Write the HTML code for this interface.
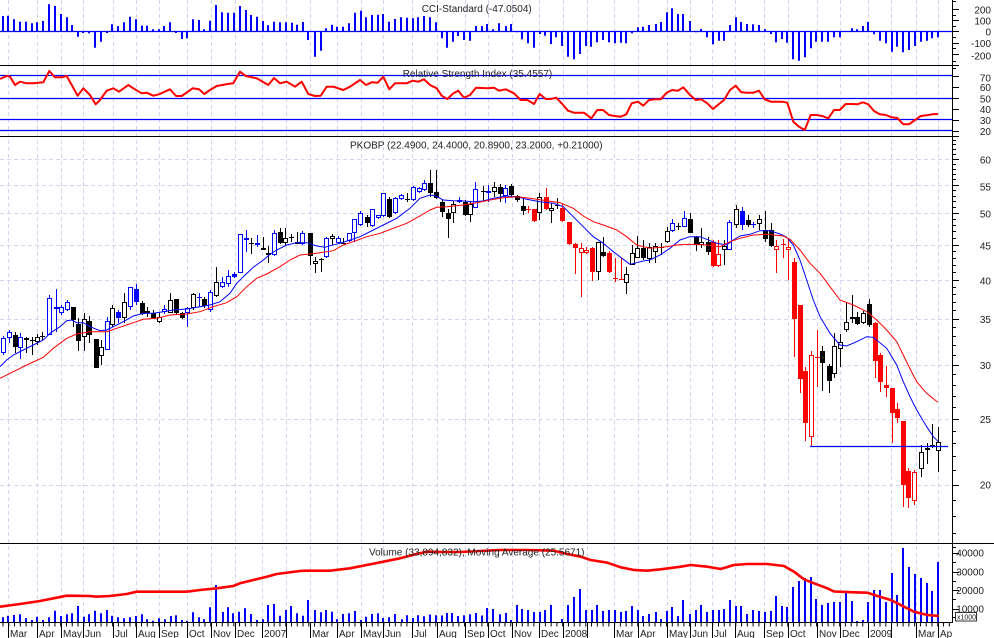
<!DOCTYPE html>
<html><head><meta charset="utf-8"><style>
html,body{margin:0;padding:0;background:#fff;width:994px;height:638px;overflow:hidden}
svg{display:block}
text{font-family:"Liberation Sans",Arial,sans-serif;font-size:10px;fill:#222}
</style></head><body>
<svg width="994" height="638" viewBox="0 0 994 638" xmlns="http://www.w3.org/2000/svg">
<defs><clipPath id="cx"><rect x="0" y="600" width="952" height="40"/></clipPath></defs>
<rect width="994" height="638" fill="#fff"/>
<!-- vertical grid -->
<g stroke="#d4d4f0" stroke-width="1" stroke-dasharray="4 3">
<path d="M8.5 0V622M37.5 0V622M61.5 0V622M83.5 0V622M113.5 0V622M136.5 0V622M159.5 0V622M187.5 0V622M211.5 0V622M235.5 0V622M262.5 0V622M286.5 0V622M310.5 0V622M337.5 0V622M361.5 0V622M383.5 0V622M412.5 0V622M437.5 0V622M465.5 0V622M488.5 0V622M512.5 0V622M539.5 0V622M563.5 0V622M587.5 0V622M614.5 0V622M638.5 0V622M667.5 0V622M690.5 0V622M712.5 0V622M735.5 0V622M764.5 0V622M788.5 0V622M817.5 0V622M840.5 0V622M868.5 0V622M891.5 0V622M916.5 0V622M938.5 0V622"/>
<path d="M0 159.5H952M0 185.5H952M0 213.5H952M0 245.5H952M0 280.5H952M0 319.5H952M0 365.5H952M0 419.5H952M0 485.5H952"/>
</g>
<!-- reference lines -->
<g stroke="#0000ff" stroke-width="1.3">
<path d="M0 31.5H952M0 75.5H952M0 98.5H952M0 119.5H952M0 130.5H952"/>
</g>
<!-- separators -->
<g stroke="#000" stroke-width="1">
<path d="M0 65.5H959M0 136.5H959M0 543.5H994M0 622.5H953M952.5 0V622"/>
</g>
<!-- CCI bars -->
<path fill="none" stroke="#0000ff" stroke-width="2" d="M3 31.5V16M8 31.5V15.7M14 31.5V19.3M20 31.5V21.7M26 31.5V21.7M32 31.5V23.3M37 31.5V22.3M43 31.5V21M49 31.5V4.3M55 31.5V6M61 31.5V14M67 31.5V17.3M72 31.5V25M78 31.5V36.7M83 31.5V33M89 31.5V33.3M95 31.5V47.7M101 31.5V41.7M107 31.5V33M112 31.5V24.3M118 31.5V26M124 31.5V22.3M130 31.5V16.7M136 31.5V19.3M142 31.5V25.7M147 31.5V25.7M153 31.5V29.3M159 31.5V29.3M164 31.5V26M170 31.5V22.3M176 31.5V33M182 31.5V39M187 31.5V38.3M193 31.5V19.3M199 31.5V20M204 31.5V29.3M210 31.5V20.7M216 31.5V5M222 31.5V12.3M228 31.5V12.7M234 31.5V12.7M240 31.5V6M246 31.5V10M251 31.5V15M257 31.5V16.7M263 31.5V21M268 31.5V25.3M274 31.5V21.7M280 31.5V22.3M286 31.5V22.3M292 31.5V22.7M297 31.5V24.7M303 31.5V22M308 31.5V40M315 31.5V56.7M321 31.5V50.7M326 31.5V28.3M332 31.5V24.7M337 31.5V26.7M343 31.5V26.7M349 31.5V23.3M355 31.5V12.7M361 31.5V10.7M366 31.5V17.3M372 31.5V15M378 31.5V14.7M383 31.5V14M389 31.5V21.7M395 31.5V19M401 31.5V17.3M407 31.5V17.7M413 31.5V18.3M418 31.5V17.3M424 31.5V16M430 31.5V17.3M436 31.5V22.3M442 31.5V38.3M447 31.5V47.7M453 31.5V41.7M458 31.5V36M464 31.5V40M470 31.5V40.7M476 31.5V26M482 31.5V26M487 31.5V24M493 31.5V29.3M499 31.5V23.3M506 31.5V26M511 31.5V24M517 31.5V32.3M522 31.5V39.3M528 31.5V43.3M534 31.5V47.7M540 31.5V34M545 31.5V35.7M551 31.5V44M556 31.5V37.3M562 31.5V46M568 31.5V56.7M574 31.5V59.3M580 31.5V54M586 31.5V46M591 31.5V46.7M597 31.5V42.3M603 31.5V40M609 31.5V42.3M615 31.5V43.3M621 31.5V42.7M626 31.5V43.3M632 31.5V33.3M638 31.5V27.3M643 31.5V26.7M649 31.5V25M656 31.5V24M661 31.5V22M667 31.5V12.3M672 31.5V8.3M678 31.5V14M683 31.5V14M690 31.5V21M696 31.5V32.3M701 31.5V29M707 31.5V37.3M713 31.5V44.3M719 31.5V40.7M724 31.5V40.7M730 31.5V25M736 31.5V17.3M741 31.5V22M747 31.5V24M753 31.5V24.3M759 31.5V25M765 31.5V29.3M771 31.5V34M776 31.5V42.3M782 31.5V39M787 31.5V42.7M793 31.5V59.3M799 31.5V60.7M805 31.5V57.3M811 31.5V48.3M816 31.5V41.7M822 31.5V41.7M828 31.5V41.7M834 31.5V37.3M840 31.5V37.3M852 31.5V28.3M857 31.5V29.3M863 31.5V26M868 31.5V22M874 31.5V34.3M880 31.5V40.7M886 31.5V43.3M892 31.5V51.7M897 31.5V46.7M903 31.5V52.3M909 31.5V50M915 31.5V46M921 31.5V41.7M927 31.5V40.7M932 31.5V38.3M938 31.5V37.3"/>
<!-- RSI -->
<polyline fill="none" stroke="#ff0000" stroke-width="2" stroke-linejoin="round" points="0,79 6.7,76 10,76.7 15,85 20,81.7 26.7,83.3 33.3,83.3 43.3,82.3 49.3,71 55,77.3 61.7,77.3 66.7,76 71.7,85 77.7,95.7 83.3,88.3 90,95 95.7,104.3 100,100 106.7,90.7 113.3,88.3 119,91.7 128.3,85 133.3,88.3 141.7,93.3 146.7,92.7 153.3,95.7 159,94.3 170,89.3 176,96 181.7,96 192.7,88.3 199,89.3 204.3,94 210,90 216.7,86 227.7,84 233.3,83.3 240,71.7 245.7,76 256.7,78.3 268.3,85 274,78 280,83.3 286.7,81.7 295,86.7 301.7,81.7 308.3,94 315,96 320.7,95.7 326.7,86.7 333.3,86.7 343.3,90 350,86.7 360,80 366,85 371.7,82.3 377.7,82.7 383.3,76.7 389.3,89.3 395,83.3 406.7,83.3 412.7,80.7 418.3,81.7 424,79.3 430,85 436.7,88.3 441.7,95.7 447.3,99 453.3,93.3 458.3,90.7 464,97.7 470,95 476,87.7 481.7,88 487.3,88.3 494,87.7 499,90.7 505.7,89.3 514,93.3 520.7,100 527.3,100 534,104 539.7,94 545.7,99 550.7,99 556.3,97.7 562.3,104 568,110.7 574,112.7 584,112.7 591.3,118.3 597.3,110 603,110 609,115 614.7,116 620.7,116.7 626.3,114.3 631.7,103.3 638,101.7 643.3,105.7 649,100 655.7,99.3 660.7,99.3 666.7,92.7 672.3,90 678,90.7 683.3,87.3 690,95 695.7,100 701.3,99.3 707.3,103.3 713,109 719,104 724,100 730,90 735.7,85.7 741.3,92.3 747.3,92.7 753.3,92.7 759,90.7 764.7,99.3 770.7,101.7 782.3,101.7 787.3,102.7 793.3,121.7 799,126.7 804.7,130 810.7,115 816.3,115 822.3,116 828.3,118.3 834,110 839.7,110 845.7,104 851.7,104 857.3,104.3 863,102.3 868.3,104.3 874,111 879.7,114.3 885.7,115 891.7,117.3 897.3,118 903.3,124.3 909,124.3 915,120 920.7,116 926.7,115.3 932.3,114.3 938,114"/>
<!-- candle wicks -->
<path fill="none" stroke="#0000ff" stroke-width="1" d="M3.5 336V355M9.5 330V343M20.5 333V359M49.5 295V335M56.5 289V332M61.5 305V315M67.5 300V311M107.5 317V350M118.5 310V323M130.5 287V310M136.5 284V305M164.5 305V314M187.5 307V327M199.5 293V307M210.5 290V312M222.5 277V288M228.5 270V287M234.5 272V278M240.5 234V273M246.5 230V252M257.5 235V247M274.5 230V256M302.5 231V245M326.5 237V258M338.5 236V244M349.5 233V242M354.5 219V242M360.5 211V226M372.5 209V227M378.5 215V219M383.5 193V217M395.5 197V214M401.5 194V200M413.5 186V201M419.5 187V193M424.5 180V191M459.5 197V203M475.5 182V208M488.5 185V202M505.5 185V203M672.5 219V232M684.5 211V227M729.5 220V250M742.5 207V230M753.5 222V228M197 297.5h5M751 224.5h5"/>
<path fill="none" stroke="#000" stroke-width="1" d="M15.5 332V353M26.5 337V353M32.5 337V355M37.5 334V345M42.5 332V340M73.5 307V327M78.5 318V351M84.5 313V351M89.5 316V343M96.5 339V368M101.5 340V365M112.5 305V327M124.5 293V323M142.5 301V315M147.5 307V317M153.5 310V318M159.5 313V323M170.5 293V313M176.5 299V315M182.5 312V319M193.5 293V310M204.5 297V308M216.5 267V297M251.5 238V254M263.5 237V249M268.5 246V263M280.5 228V244M285.5 228V245M291.5 234V242M297.5 232V244M310.5 233V265M315.5 257V273M321.5 258V272M332.5 234V245M343.5 238V244M367.5 215V227M389.5 197V218M407.5 193V202M430.5 170V197M436.5 170V199M442.5 200V217M448.5 209V238M453.5 201V223M465.5 200V216M470.5 202V222M483.5 186V201M494.5 182V197M500.5 184V202M511.5 184V197M517.5 195V202M523.5 198V215M539.5 193V220M551.5 203V223M557.5 198V209M598.5 242V280M603.5 237V257M626.5 267V294M632.5 245V265M637.5 236V258M643.5 240V260M649.5 243V263M655.5 243V263M661.5 243V255M667.5 227V243M678.5 223V230M690.5 213V233M696.5 236V251M701.5 228V248M708.5 237V255M724.5 240V265M736.5 205V228M748.5 215V227M759.5 215V230M765.5 211V242M771.5 223V247M822.5 346V391M829.5 364V393M834.5 333V378M840.5 334V367M846.5 303V332M852.5 295V323M857.5 312V325M863.5 311V324M869.5 299V327M921.5 445V477M927.5 443V464M932.5 424V448M938.5 427V472M30 340.5h5M40 336.5h5M249 243.5h5M289 237.5h5M319 259.5h5M341 243.5h5M405 199.5h5M481 191.5h5M555 205.5h5M659 247.5h5M676 226.5h5"/>
<path fill="none" stroke="#ff0000" stroke-width="1" d="M528.5 206V213M534.5 209V222M546.5 188V210M562.5 204V222M569.5 222V245M575.5 243V274M581.5 243V297M586.5 247V254M592.5 247V281M609.5 251V273M615.5 258V282M621.5 258V280M713.5 240V267M718.5 240V267M776.5 240V273M783.5 239V258M788.5 238V280M794.5 258V357M800.5 305V393M805.5 367V441M811.5 351V447M817.5 330V387M875.5 322V378M880.5 353V392M886.5 366V397M892.5 388V443M897.5 403V423M903.5 421V507M908.5 468V508M914.5 470V505M526 209.5h5M613 278.5h5M619 279.5h5M781 244.5h5M815 357.5h5"/>
<!-- filled bodies -->
<g fill="#0000ff"><rect x="54" y="307" width="5" height="2"/><rect x="116" y="312" width="5" height="6"/><rect x="134" y="289" width="5" height="13"/><rect x="232" y="274" width="5" height="3"/><rect x="244" y="238" width="5" height="2"/><rect x="255" y="243" width="5" height="2"/><rect x="486" y="191" width="5" height="2"/><rect x="740" y="211" width="5" height="14"/></g>
<g fill="#000"><rect x="13" y="335" width="5" height="12"/><rect x="24" y="338" width="5" height="2"/><rect x="71" y="307" width="5" height="13"/><rect x="76" y="324" width="5" height="17"/><rect x="87" y="321" width="5" height="14"/><rect x="94" y="339" width="5" height="29"/><rect x="140" y="303" width="5" height="11"/><rect x="151" y="313" width="5" height="5"/><rect x="174" y="299" width="5" height="14"/><rect x="180" y="313" width="5" height="5"/><rect x="202" y="299" width="5" height="7"/><rect x="261" y="248" width="5" height="2"/><rect x="266" y="253" width="5" height="2"/><rect x="278" y="232" width="5" height="11"/><rect x="295" y="242" width="5" height="2"/><rect x="308" y="233" width="5" height="23"/><rect x="365" y="217" width="5" height="6"/><rect x="387" y="199" width="5" height="18"/><rect x="428" y="183" width="5" height="10"/><rect x="434" y="192" width="5" height="6"/><rect x="440" y="202" width="5" height="10"/><rect x="446" y="213" width="5" height="6"/><rect x="463" y="202" width="5" height="13"/><rect x="498" y="187" width="5" height="7"/><rect x="509" y="186" width="5" height="9"/><rect x="515" y="196" width="5" height="4"/><rect x="521" y="206" width="5" height="5"/><rect x="601" y="252" width="5" height="4"/><rect x="641" y="248" width="5" height="10"/><rect x="688" y="219" width="5" height="14"/><rect x="694" y="237" width="5" height="8"/><rect x="706" y="242" width="5" height="10"/><rect x="746" y="220" width="5" height="5"/><rect x="763" y="230" width="5" height="9"/><rect x="769" y="230" width="5" height="16"/><rect x="820" y="351" width="5" height="12"/><rect x="827" y="366" width="5" height="15"/><rect x="850" y="317" width="5" height="2"/><rect x="855" y="317" width="5" height="7"/><rect x="867" y="304" width="5" height="21"/><rect x="925" y="448" width="5" height="2"/><rect x="930" y="445" width="5" height="2"/></g>
<g fill="#ff0000"><rect x="532" y="209" width="5" height="12"/><rect x="544" y="197" width="5" height="12"/><rect x="560" y="208" width="5" height="13"/><rect x="567" y="222" width="5" height="22"/><rect x="573" y="244" width="5" height="4"/><rect x="590" y="248" width="5" height="24"/><rect x="607" y="253" width="5" height="19"/><rect x="711" y="242" width="5" height="24"/><rect x="792" y="262" width="5" height="57"/><rect x="798" y="305" width="5" height="74"/><rect x="803" y="371" width="5" height="52"/><rect x="873" y="323" width="5" height="38"/><rect x="878" y="355" width="5" height="27"/><rect x="884" y="385" width="5" height="3"/><rect x="890" y="388" width="5" height="25"/><rect x="895" y="409" width="5" height="9"/><rect x="901" y="421" width="5" height="64"/><rect x="906" y="471" width="5" height="27"/></g>
<!-- hollow bodies -->
<g fill="#fff" stroke="#0000ff" stroke-width="1"><rect x="1.5" y="338.5" width="4" height="14"/><rect x="7.5" y="332.5" width="4" height="5"/><rect x="18.5" y="337.5" width="4" height="10"/><rect x="47.5" y="298.5" width="4" height="36"/><rect x="59.5" y="307.5" width="4" height="5"/><rect x="65.5" y="302.5" width="4" height="7"/><rect x="105.5" y="321.5" width="4" height="28"/><rect x="128.5" y="287.5" width="4" height="19"/><rect x="162.5" y="309.5" width="4" height="2"/><rect x="185.5" y="308.5" width="4" height="4"/><rect x="208.5" y="292.5" width="4" height="17"/><rect x="220.5" y="282.5" width="4" height="4"/><rect x="226.5" y="276.5" width="4" height="7"/><rect x="238.5" y="234.5" width="4" height="38"/><rect x="272.5" y="233.5" width="4" height="21"/><rect x="300.5" y="233.5" width="4" height="10"/><rect x="324.5" y="238.5" width="4" height="18"/><rect x="336.5" y="238.5" width="4" height="4"/><rect x="347.5" y="233.5" width="4" height="7"/><rect x="352.5" y="219.5" width="4" height="13"/><rect x="358.5" y="213.5" width="4" height="11"/><rect x="370.5" y="209.5" width="4" height="16"/><rect x="376.5" y="215.5" width="4" height="2"/><rect x="381.5" y="193.5" width="4" height="22"/><rect x="393.5" y="198.5" width="4" height="14"/><rect x="399.5" y="195.5" width="4" height="3"/><rect x="411.5" y="187.5" width="4" height="12"/><rect x="417.5" y="188.5" width="4" height="3"/><rect x="422.5" y="183.5" width="4" height="6"/><rect x="457.5" y="200.5" width="4" height="1"/><rect x="473.5" y="189.5" width="4" height="18"/><rect x="503.5" y="188.5" width="4" height="7"/><rect x="670.5" y="223.5" width="4" height="7"/><rect x="682.5" y="218.5" width="4" height="8"/><rect x="727.5" y="222.5" width="4" height="27"/></g>
<g fill="#fff" stroke="#000" stroke-width="1"><rect x="35.5" y="337.5" width="4" height="4"/><rect x="82.5" y="319.5" width="4" height="17"/><rect x="99.5" y="347.5" width="4" height="8"/><rect x="110.5" y="308.5" width="4" height="16"/><rect x="122.5" y="302.5" width="4" height="15"/><rect x="145.5" y="311.5" width="4" height="1"/><rect x="157.5" y="317.5" width="4" height="4"/><rect x="168.5" y="300.5" width="4" height="12"/><rect x="191.5" y="294.5" width="4" height="13"/><rect x="214.5" y="282.5" width="4" height="13"/><rect x="283.5" y="238.5" width="4" height="4"/><rect x="313.5" y="261.5" width="4" height="2"/><rect x="330.5" y="236.5" width="4" height="2"/><rect x="451.5" y="204.5" width="4" height="8"/><rect x="468.5" y="204.5" width="4" height="10"/><rect x="492.5" y="187.5" width="4" height="4"/><rect x="537.5" y="197.5" width="4" height="15"/><rect x="549.5" y="208.5" width="4" height="2"/><rect x="596.5" y="242.5" width="4" height="29"/><rect x="624.5" y="274.5" width="4" height="8"/><rect x="630.5" y="253.5" width="4" height="11"/><rect x="635.5" y="248.5" width="4" height="9"/><rect x="647.5" y="247.5" width="4" height="11"/><rect x="653.5" y="246.5" width="4" height="5"/><rect x="665.5" y="231.5" width="4" height="10"/><rect x="699.5" y="242.5" width="4" height="2"/><rect x="722.5" y="246.5" width="4" height="3"/><rect x="734.5" y="209.5" width="4" height="15"/><rect x="757.5" y="219.5" width="4" height="4"/><rect x="832.5" y="346.5" width="4" height="27"/><rect x="838.5" y="342.5" width="4" height="6"/><rect x="844.5" y="322.5" width="4" height="7"/><rect x="861.5" y="313.5" width="4" height="9"/><rect x="919.5" y="452.5" width="4" height="16"/><rect x="936.5" y="442.5" width="4" height="8"/></g>
<g fill="#fff" stroke="#ff0000" stroke-width="1"><rect x="579.5" y="248.5" width="4" height="4"/><rect x="584.5" y="250.5" width="4" height="2"/><rect x="716.5" y="254.5" width="4" height="11"/><rect x="774.5" y="246.5" width="4" height="3"/><rect x="786.5" y="247.5" width="4" height="2"/><rect x="809.5" y="355.5" width="4" height="81"/><rect x="912.5" y="472.5" width="4" height="28"/></g>
<!-- moving averages -->
<polyline fill="none" stroke="#0000ff" stroke-width="1" points="0,366.7 6.7,360 13.3,355 23.3,350 33.3,345 43.3,340 50,333.3 60,326.7 66.7,320.7 71.7,320 76.7,322.7 83.3,322.7 90,326.7 100,330.7 106.7,330 113.3,326.7 123.3,321.7 133.3,316 143.3,313.3 153.3,313.3 163.3,311.7 173.3,310 186.7,309 200,306.7 210,305 220,301.7 230,293.3 236.7,283.3 243.3,276.7 253.3,267.3 263.3,260 270,254.3 276.7,250 286.7,245 296.7,242.7 306.7,242.7 316.7,246 325,247.3 330,245.7 340,243.3 350,240 360,236.7 373.3,230 383.3,225 396.7,218.3 410,208.3 420,198.3 430,195 435,195.7 443.3,200 453.3,200.7 463.3,201 473.3,201.7 483.3,201 493.3,198.3 506.7,196 516.7,196.7 526.7,199.3 540,201.7 553.3,203.3 563.3,206.7 573.3,216.7 583.3,226.7 593.3,236.7 603.3,243.3 613.3,251.7 623.3,259.3 630,264.3 636.7,262.7 643.3,261 650,260 660,255 670,248.3 680,240 690,236.7 700,236.7 706.7,239.3 716.7,243.3 726.7,245 733.3,240 740,236 750,234.3 760,230.7 770,230.7 780,234 786.7,237.3 793.3,245 800,260 806.7,280 813.3,300 820,316.7 830,333.3 840,345 846.7,346 856.7,341.7 866.7,336.7 873.3,337.3 886.7,348.3 896.7,365 903.3,381.7 910,396.7 916.7,410 926.7,426.7 933.3,436.7 938.3,441.7"/>
<polyline fill="none" stroke="#ff0000" stroke-width="1" points="0,378.3 13.3,371.7 26.7,365 43.3,357.3 53.3,348.3 66.7,338.3 76.7,334 90,331.7 106.7,331.7 116.7,328.3 133.3,322.7 143.3,319.3 156.7,318.3 170,315 186.7,314 200,311.7 213.3,306.7 226.7,302.7 236.7,296.7 246.7,286.7 256.7,278.3 266.7,274 280,266.7 290,260 300,255 310,254 320,252.7 333.3,250.7 343.3,245 353.3,241.7 366.7,236.7 380,233.3 393.3,228.3 406.7,223.3 420,216 430,210 436.7,207.3 446.7,206.7 463.3,205 476.7,202.7 490,200 503.3,197.7 516.7,196.7 530,198.3 546.7,200.7 560,202.7 573.3,208.3 583.3,216 593.3,221.7 603.3,225 616.7,230 626.7,236.7 636.7,245 650,248.3 666.7,246.7 676.7,245 690,244.3 706.7,245 720,246.7 730,241.7 740,238.3 753.3,235 766.7,234.3 783.3,236 790,239.3 800,250 810,263.3 820,273.3 830,286.7 840,300 853.3,305 866.7,311.7 876.7,320 886.7,330 896.7,341.7 906.7,362 916.7,382 926.7,393.3 937.7,402.3"/>
<path fill="none" stroke="#0000ff" stroke-width="1.3" d="M810 446.5H948"/>
<!-- volume bars -->
<path fill="none" stroke="#0000ff" stroke-width="2" d="M3 622V617.3M8 622V615.7M14 622V615M20 622V614.3M26 622V618.3M32 622V620M37 622V616.7M43 622V620M49 622V617.3M55 622V610.7M61 622V616M67 622V614.3M72 622V613.3M78 622V606M84 622V616.7M89 622V614.3M95 622V610.7M101 622V613.3M107 622V610M112 622V615.7M118 622V617.3M124 622V618.3M130 622V617.3M136 622V616M142 622V614.3M147 622V619.3M153 622V620.7M159 622V618.3M165 622V619.3M171 622V616M176 622V615.3M182 622V620M187 622V620.7M193 622V612.3M199 622V617.3M204 622V619.3M210 622V607.3M216 622V585M223 622V612M228 622V607.3M233 622V613.3M239 622V611.7M245 622V608.3M251 622V614M257 622V620M263 622V619.3M268 622V605M274 622V604M280 622V615.7M286 622V610M291 622V606M297 622V613.3M303 622V615.7M308 622V600M315 622V610M321 622V612.3M326 622V610M332 622V611.7M337 622V619.3M343 622V614M349 622V613.3M355 622V611M361 622V620M366 622V616.7M372 622V614M378 622V613.3M383 622V618M389 622V617.3M395 622V614M402 622V619.3M407 622V615.3M413 622V618M418 622V615.3M424 622V616.3M430 622V614.5M436 622V615.3M442 622V615.5M447 622V613M452 622V613M458 622V616M464 622V615.3M470 622V614.2M476 622V613M482 622V615.5M487 622V608M493 622V609M500 622V614.3M506 622V613M511 622V620M517 622V605M522 622V609M528 622V610M534 622V612M540 622V612M545 622V610M551 622V605M562 622V619M568 622V605M574 622V597M580 622V589M586 622V610M592 622V610M597 622V605M603 622V611M609 622V610M615 622V610M621 622V612M626 622V611M632 622V606M638 622V610M643 622V616M649 622V614M656 622V612M661 622V619M667 622V611M672 622V607M678 622V616M683 622V600M690 622V614M696 622V610M701 622V605M707 622V612M713 622V610M719 622V610M724 622V609M730 622V600M736 622V606M741 622V606M747 622V614M753 622V610M759 622V611M765 622V612M771 622V611M776 622V596M782 622V606M787 622V607M793 622V587M799 622V581M805 622V578M811 622V577M816 622V599M822 622V605M828 622V603M834 622V602M840 622V602M846 622V592M852 622V601M857 622V621M863 622V620M868 622V602M874 622V590M880 622V590M886 622V602M892 622V573M897 622V595M903 622V548M909 622V567M915 622V574M921 622V578M927 622V583M932 622V591M938 622V562"/>
<polyline fill="none" stroke="#ff0000" stroke-width="2.6" stroke-linejoin="round" points="0,606.7 20,604 40,601 56.7,597.7 66.7,595.7 90,596 96.7,596.7 110,596 126.7,594 136.7,591.7 186.7,591.7 200,590 216.7,588.3 233.3,586 240,583.3 253.3,580 266.7,576.7 276.7,574 300,571 306.7,570.7 330,570.7 350,568.3 366.7,565 383.3,561.7 400,558.3 416.7,554 426.7,551.7 443.3,552 460,552 480,551 500,550 527.3,550 554,550.7 567.3,554 580.7,556.7 590.7,560 607.3,562.7 620.7,567.3 634,570 647.3,570.7 660.7,569.3 680.7,566.7 690.7,565 707.3,566.7 720.7,569 734,565 747.3,564 767.3,564 784,566 794,571.7 804,579.3 814,583.3 827.3,588.3 834,591.5 854,592.3 867.3,592.7 877.3,596 890.7,600 904,606.7 914,611.7 927.3,615 939,616"/>
<!-- x axis ticks -->
<line x1="2.5" y1="624.5" x2="952" y2="624.5" stroke="#000" stroke-width="4" stroke-dasharray="1 4.77"/>
<path fill="none" stroke="#000" stroke-width="1" d="M8.5 622V638M37.5 622V638M61.5 622V638M83.5 622V638M113.5 622V638M136.5 622V638M159.5 622V638M187.5 622V638M211.5 622V638M235.5 622V638M262.5 622V638M286.5 622V638M310.5 622V638M337.5 622V638M361.5 622V638M383.5 622V638M412.5 622V638M437.5 622V638M465.5 622V638M488.5 622V638M512.5 622V638M539.5 622V638M563.5 622V638M587.5 622V638M614.5 622V638M638.5 622V638M667.5 622V638M690.5 622V638M712.5 622V638M735.5 622V638M764.5 622V638M788.5 622V638M817.5 622V638M840.5 622V638M868.5 622V638M891.5 622V638M916.5 622V638M938.5 622V638"/>
<!-- right axis ticks -->
<path fill="none" stroke="#000" stroke-width="1" d="M953 533.5h3M953 516.5h3M953 500.5h3M953 485.5h6M953 470.5h3M953 456.5h3M953 443.5h3M953 431.5h3M953 419.5h6M953 407.5h3M953 396.5h3M953 385.5h3M953 374.5h3M953 365.5h6M953 355.5h3M953 345.5h3M953 336.5h3M953 327.5h3M953 319.5h6M953 310.5h3M953 302.5h3M953 294.5h3M953 287.5h3M953 280.5h6M953 272.5h3M953 265.5h3M953 258.5h3M953 251.5h3M953 245.5h6M953 238.5h3M953 231.5h3M953 225.5h3M953 219.5h3M953 213.5h6M953 207.5h3M953 201.5h3M953 196.5h3M953 190.5h3M953 185.5h6M953 179.5h3M953 174.5h3M953 169.5h3M953 164.5h3M953 159.5h6M953 154.5h3M953 149.5h3M953 144.5h3M953 140.5h3M953 1.5h3M953 9.5h6M953 15.5h3M953 20.5h6M953 26.5h3M953 31.5h6M953 37.5h3M953 43.5h6M953 48.5h3M953 54.5h6M953 61.5h3M953 68.5h3M953 76.5h6M953 87.5h6M953 98.5h6M953 109.5h6M953 120.5h6M953 131.5h6M953 547.5h3M953 553.5h6M953 562.5h3M953 572.5h6M953 581.5h3M953 590.5h6M953 599.5h3M953 609.5h6M953 617.5h3"/>
<!-- titles -->
<text x="421.7" y="12">CCI-Standard (-47.0504)</text>
<text x="402.7" y="77">Relative Strength Index (35.4557)</text>
<text x="350" y="148.4">PKOBP (22.4900, 24.4000, 20.8900, 23.2000, +0.21000)</text>
<text x="369" y="555.5">Volume (33,894,832), Moving Average (25.5671)</text>
<!-- right labels -->
<g text-anchor="end">
<text x="991" y="13.6">200</text><text x="991" y="24.6">100</text><text x="991" y="35.6">0</text><text x="991" y="47">-100</text><text x="991" y="59.6">-200</text>
<text x="991" y="81.3">70</text><text x="991" y="91">60</text><text x="991" y="102.3">50</text><text x="991" y="113">40</text><text x="991" y="124">30</text><text x="991" y="135">20</text>
<text x="991" y="163.6">60</text><text x="991" y="190.3">55</text><text x="991" y="217.6">50</text><text x="991" y="249.6">45</text><text x="991" y="284.3">40</text><text x="991" y="322.9">35</text><text x="991" y="369.1">30</text><text x="991" y="422.9">25</text><text x="991" y="488.6">20</text>
<text x="984" y="556.6">40000</text><text x="984" y="575.6">30000</text><text x="984" y="594">20000</text><text x="984" y="612.3">10000</text>
</g>
<rect x="955.5" y="612.5" width="21" height="8.5" fill="#fff" stroke="#333" stroke-width="1"/>
<text x="957" y="619.6" style="font-size:7px">x1000</text>
<!-- x labels -->
<g clip-path="url(#cx)">
<text x="10" y="637">Mar</text><text x="39" y="637">Apr</text><text x="63" y="637">May</text><text x="85" y="637">Jun</text><text x="115" y="637">Jul</text><text x="138" y="637">Aug</text><text x="161" y="637">Sep</text><text x="189" y="637">Oct</text><text x="213" y="637">Nov</text><text x="237" y="637">Dec</text><text x="264" y="637">2007</text>
<text x="312" y="637">Mar</text><text x="339" y="637">Apr</text><text x="363" y="637">May</text><text x="385" y="637">Jun</text><text x="414" y="637">Jul</text><text x="439" y="637">Aug</text><text x="467" y="637">Sep</text><text x="490" y="637">Oct</text><text x="514" y="637">Nov</text><text x="541" y="637">Dec</text><text x="565" y="637">2008</text>
<text x="616" y="637">Mar</text><text x="640" y="637">Apr</text><text x="669" y="637">May</text><text x="692" y="637">Jun</text><text x="714" y="637">Jul</text><text x="737" y="637">Aug</text><text x="766" y="637">Sep</text><text x="790" y="637">Oct</text><text x="819" y="637">Nov</text><text x="842" y="637">Dec</text><text x="870" y="637">2009</text>
<text x="918" y="637">Mar</text><text x="940" y="637">Apr</text>
</g>
</svg>
</body></html>
